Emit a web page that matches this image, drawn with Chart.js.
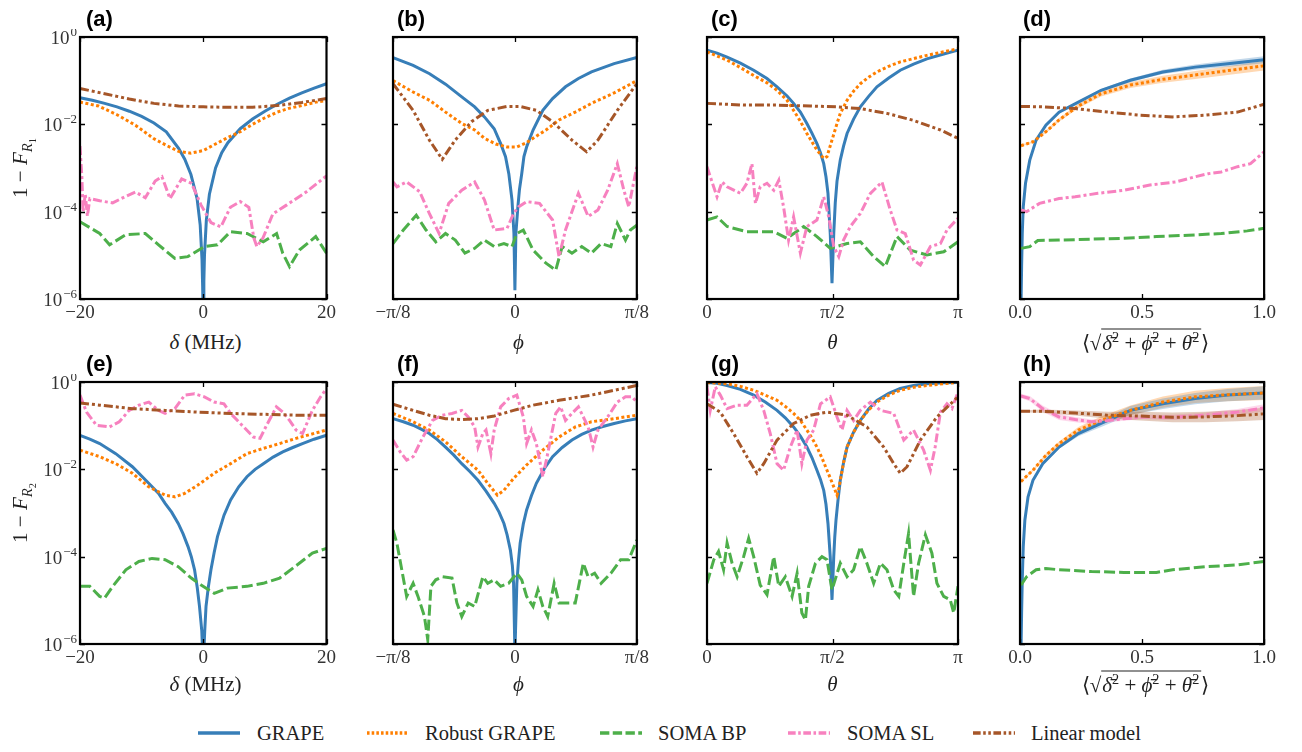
<!DOCTYPE html>
<html>
<head>
<meta charset="utf-8">
<script src="https://cdn.jsdelivr.net/npm/chart.js@4.4.1/dist/chart.umd.min.js"></script>
<style>
  body { margin: 0; background: #fff; width: 1302px; height: 752px; position: relative; overflow: hidden; font-family: "Liberation Serif", serif; color: #222; }
  canvas { position: absolute; }
  .lbl { position: absolute; font: bold 22px "Liberation Sans", Arial, sans-serif; line-height: 26px; color: #000; }
  .xt { position: absolute; font-size: 21px; transform: translate(-50%, -50%); white-space: nowrap; }
  .yt { position: absolute; font-size: 21px; transform: translate(-50%, -50%) rotate(-90deg); white-space: nowrap; }
  .ov { border-top: 1.3px solid #222; padding: 1px 2px 0 1px; }
  .leg { position: absolute; top: 721px; font-size: 20.5px; line-height: 24px; white-space: nowrap; }
  .legline { position: absolute; top: 728px; }
  sub { font-size: 70%; }
  sup { font-size: 68%; }
</style>
</head>
<body>
<div id="root"></div>
<script>
// series order: GRAPE, Robust GRAPE, SOMA BP, SOMA SL, Linear model
const SERIES_NAMES = ["GRAPE", "Robust GRAPE", "SOMA BP", "SOMA SL", "Linear model"];
const SERIES_COLORS = ["#377eb8", "#ff7f00", "#4daf4a", "#f781bf", "#a65628"];
const BAND_COLORS = ["rgba(55,126,184,0.3)", "rgba(255,127,0,0.3)", "rgba(77,175,74,0.3)", "rgba(247,129,191,0.3)", "rgba(166,86,40,0.3)"];
const SERIES_DASH = [[], [3, 2.5], [11, 4], [9, 3, 3, 3], [9, 3, 3, 3, 3, 3]];

const Y_TICKS = [1e-6, 1e-4, 1e-2, 1];
const Y_EXP = ["\u22126", "\u22124", "\u22122", "0"];

// all y values below are log10(1 - F)

// (a) delta in MHz
const aGrapeX = [-20, -18, -16, -14, -12, -10, -8, -6, -4, -3, -2, -1, -0.5, -0.2, -0.1, 0, 0.1, 0.2, 0.5, 1, 2, 3, 4, 6, 8, 10, 12, 14, 16, 18, 20];
const aGrapeY = [-1.39, -1.45, -1.52, -1.6, -1.7, -1.82, -1.97, -2.17, -2.55, -2.8, -3.15, -3.7, -4.3, -5.1, -5.7, -6.5, -5.6, -5.0, -4.2, -3.6, -3.0, -2.65, -2.42, -2.1, -1.88, -1.7, -1.54, -1.4, -1.28, -1.17, -1.07];
const aRobustX = [-20, -17, -14, -11, -8, -6, -4, -2, 0, 2, 4, 6, 8, 10, 12, 14, 16, 18, 20];
const aRobustY = [-1.49, -1.58, -1.78, -2.02, -2.33, -2.48, -2.62, -2.66, -2.6, -2.45, -2.3, -2.17, -2.0, -1.85, -1.72, -1.63, -1.57, -1.5, -1.45];
const aBpX = [-20, -16.8, -15.2, -12.6, -9.4, -7.25, -4.6, -2.5, 0.2, 2.3, 4.4, 7.1, 9.75, 11.9, 12.9, 14, 15.6, 18.25, 20];
const aBpY = [-4.23, -4.5, -4.76, -4.53, -4.5, -4.76, -5.07, -5.03, -4.8, -4.76, -4.46, -4.5, -4.69, -4.5, -4.95, -5.26, -4.88, -4.57, -4.95];
const aSlX = [-20, -19.7, -19.5, -19.15, -18.8, -18.4, -16.8, -14.7, -12.6, -11, -9.4, -7.8, -6.7, -5.4, -3.5, -1.9, -0.35, 1.25, 2.85, 4.4, 6.0, 7.4, 8.2, 8.7, 9.7, 11.3, 13.5, 16.7, 20];
const aSlY = [-2.5, -3.2, -4.0, -3.6, -4.1, -3.7, -3.75, -3.8, -3.65, -3.55, -3.68, -3.3, -3.2, -3.7, -3.25, -3.35, -3.85, -4.25, -4.35, -3.9, -3.77, -3.9, -4.6, -4.8, -4.6, -4.05, -3.85, -3.55, -3.18];
const aLinearX = [-20, -16, -12, -8, -4, 0, 4, 8, 12, 16, 20];
const aLinearY = [-1.18, -1.3, -1.42, -1.52, -1.58, -1.6, -1.61, -1.61, -1.57, -1.5, -1.41];

// (b) phi in units of pi/8
const bGrapeX = [-1, -0.835, -0.7, -0.569, -0.436, -0.33, -0.25, -0.17, -0.117, -0.077, -0.05, -0.024, -0.008, 0, 0.008, 0.024, 0.037, 0.056, 0.074, 0.096, 0.149, 0.229, 0.309, 0.415, 0.521, 0.628, 0.814, 1];
const bGrapeY = [-0.47, -0.65, -0.84, -1.08, -1.37, -1.6, -1.83, -2.1, -2.44, -2.74, -3.13, -3.73, -4.5, -5.8, -4.5, -3.9, -3.5, -3.13, -2.74, -2.52, -2.13, -1.68, -1.41, -1.14, -0.95, -0.8, -0.61, -0.47];
const bRobustX = [-1, -0.835, -0.7, -0.569, -0.436, -0.33, -0.25, -0.157, -0.064, 0.016, 0.096, 0.149, 0.255, 0.362, 0.495, 0.628, 0.814, 1];
const bRobustY = [-1.0, -1.26, -1.45, -1.72, -1.98, -2.13, -2.32, -2.45, -2.52, -2.52, -2.42, -2.32, -2.13, -1.9, -1.72, -1.52, -1.28, -1.0];
const bBpX = [-1, -0.915, -0.809, -0.729, -0.649, -0.569, -0.489, -0.41, -0.33, -0.25, -0.17, -0.09, -0.024, 0.016, 0.069, 0.149, 0.255, 0.335, 0.388, 0.468, 0.548, 0.628, 0.707, 0.787, 0.84, 0.907, 0.947, 1];
const bBpY = [-4.73, -4.42, -4.08, -4.42, -4.69, -4.5, -4.65, -4.95, -4.84, -4.65, -4.8, -4.73, -4.8, -4.5, -4.42, -4.88, -5.18, -5.34, -4.8, -4.95, -4.8, -4.95, -4.73, -4.8, -4.27, -4.65, -4.42, -4.31];
const bSlX = [-1, -0.968, -0.888, -0.782, -0.702, -0.622, -0.543, -0.436, -0.33, -0.25, -0.17, -0.064, -0.011, 0.029, 0.096, 0.202, 0.309, 0.362, 0.415, 0.521, 0.601, 0.681, 0.761, 0.84, 0.894, 0.934, 1];
const bSlY = [-3.32, -3.43, -3.32, -3.54, -4.04, -4.5, -3.81, -3.51, -3.32, -3.73, -4.42, -4.38, -4.04, -3.89, -3.77, -3.81, -4.19, -5.03, -4.42, -3.58, -4.11, -3.96, -3.51, -2.9, -3.51, -3.89, -2.97];
const bLinearX = [-1, -0.835, -0.702, -0.596, -0.489, -0.356, -0.223, -0.064, 0.043, 0.176, 0.309, 0.468, 0.588, 0.681, 0.84, 1];
const bLinearY = [-1.07, -1.68, -2.36, -2.8, -2.36, -1.94, -1.68, -1.59, -1.59, -1.68, -1.94, -2.36, -2.63, -2.36, -1.68, -1.07];

// (c) theta in units of pi
const cGrapeX = [0, 0.04, 0.08, 0.133, 0.186, 0.239, 0.279, 0.319, 0.345, 0.372, 0.398, 0.418, 0.438, 0.452, 0.465, 0.474, 0.482, 0.491, 0.498, 0.505, 0.511, 0.518, 0.531, 0.544, 0.558, 0.584, 0.611, 0.644, 0.677, 0.724, 0.77, 0.823, 0.876, 0.943, 1];
const cGrapeY = [-0.3, -0.37, -0.46, -0.6, -0.76, -0.95, -1.14, -1.35, -1.52, -1.72, -1.98, -2.2, -2.44, -2.65, -2.9, -3.2, -3.58, -4.5, -5.64, -4.5, -3.8, -3.3, -2.82, -2.5, -2.21, -1.88, -1.6, -1.36, -1.14, -0.94, -0.76, -0.62, -0.5, -0.39, -0.3];
const cRobustX = [0, 0.08, 0.133, 0.186, 0.239, 0.279, 0.319, 0.345, 0.372, 0.398, 0.418, 0.438, 0.465, 0.478, 0.498, 0.518, 0.531, 0.558, 0.584, 0.611, 0.644, 0.677, 0.724, 0.77, 0.876, 1];
const cRobustY = [-0.34, -0.53, -0.7, -0.88, -1.05, -1.22, -1.45, -1.68, -1.93, -2.21, -2.4, -2.59, -2.78, -2.74, -2.36, -1.98, -1.75, -1.45, -1.24, -1.07, -0.92, -0.8, -0.67, -0.57, -0.42, -0.27];
const cBpX = [0, 0.04, 0.08, 0.159, 0.266, 0.319, 0.385, 0.438, 0.491, 0.558, 0.611, 0.664, 0.71, 0.757, 0.81, 0.876, 0.943, 1];
const cBpY = [-4.19, -4.12, -4.34, -4.46, -4.46, -4.61, -4.34, -4.57, -4.84, -4.73, -4.69, -5.03, -5.26, -4.57, -4.88, -4.99, -4.92, -4.69];
const cSlX = [0, 0.02, 0.04, 0.06, 0.08, 0.133, 0.159, 0.179, 0.193, 0.212, 0.239, 0.266, 0.286, 0.305, 0.325, 0.345, 0.372, 0.398, 0.438, 0.465, 0.485, 0.505, 0.525, 0.544, 0.571, 0.611, 0.651, 0.697, 0.73, 0.757, 0.79, 0.823, 0.85, 0.89, 0.93, 0.956, 1];
const cSlY = [-2.97, -3.32, -3.66, -3.32, -3.43, -3.58, -3.35, -2.9, -3.81, -3.43, -3.35, -3.51, -3.28, -3.89, -4.65, -4.12, -4.95, -4.34, -4.19, -3.66, -4.12, -4.8, -5.03, -4.65, -4.34, -4.04, -3.58, -3.32, -3.96, -4.42, -4.5, -5.11, -5.22, -4.8, -4.73, -4.42, -4.15];
const cLinearX = [0, 0.146, 0.279, 0.412, 0.518, 0.611, 0.717, 0.823, 0.93, 1];
const cLinearY = [-1.52, -1.56, -1.56, -1.58, -1.6, -1.64, -1.75, -1.91, -2.13, -2.32];

// (d) mean error norm
const dGrapeX = [0.004, 0.0066, 0.0093, 0.0133, 0.0226, 0.04, 0.066, 0.106, 0.16, 0.239, 0.332, 0.452, 0.585, 0.718, 0.851, 1];
const dGrapeY = [-6.2, -5.26, -4.5, -3.89, -3.35, -2.82, -2.36, -2.02, -1.72, -1.49, -1.22, -0.99, -0.8, -0.69, -0.61, -0.52];
const dGrapeBand = [0, 0, 0, 0, 0, 0, 0, 0.01, 0.015, 0.02, 0.03, 0.04, 0.05, 0.06, 0.07, 0.08];
const dRobustX = [0.004, 0.053, 0.106, 0.16, 0.239, 0.332, 0.452, 0.585, 0.718, 0.851, 1];
const dRobustY = [-2.49, -2.4, -2.17, -1.9, -1.58, -1.3, -1.1, -0.97, -0.87, -0.77, -0.66];
const dRobustBand = [0.02, 0.02, 0.03, 0.04, 0.05, 0.06, 0.07, 0.08, 0.09, 0.1, 0.11];
const dBpX = [0.004, 0.04, 0.073, 0.16, 0.293, 0.426, 0.559, 0.691, 0.824, 0.931, 1];
const dBpY = [-4.84, -4.8, -4.66, -4.65, -4.63, -4.61, -4.57, -4.54, -4.5, -4.44, -4.38];
const dSlX = [0.004, 0.027, 0.08, 0.16, 0.226, 0.319, 0.426, 0.532, 0.638, 0.718, 0.771, 0.824, 0.891, 0.944, 1];
const dSlY = [-3.96, -4.0, -3.81, -3.7, -3.66, -3.58, -3.51, -3.39, -3.32, -3.2, -3.13, -3.09, -2.97, -2.9, -2.63];
const dLinearX = [0.004, 0.093, 0.226, 0.359, 0.492, 0.625, 0.758, 0.891, 1];
const dLinearY = [-1.59, -1.6, -1.64, -1.72, -1.79, -1.83, -1.79, -1.72, -1.54];

// (e) delta in MHz
const eGrapeX = [-20, -18.41, -16.8, -14.2, -11.5, -8.85, -7.25, -6.19, -5.13, -4.06, -3.27, -2.47, -1.94, -1.41, -0.98, -0.61, -0.24, 0, 0.24, 0.45, 0.82, 1.25, 1.78, 2.31, 3.37, 4.44, 5.76, 7.09, 8.42, 9.75, 11.34, 12.9, 14.53, 16.1, 17.98, 20];
const eGrapeY = [-1.22, -1.31, -1.41, -1.64, -1.94, -2.32, -2.55, -2.78, -2.98, -3.24, -3.48, -3.77, -4.0, -4.3, -4.7, -5.14, -5.7, -6.5, -5.7, -5.14, -4.7, -4.3, -3.9, -3.54, -3.05, -2.7, -2.4, -2.17, -2.0, -1.87, -1.72, -1.6, -1.5, -1.41, -1.31, -1.22];
const eRobustX = [-20, -16.8, -14.2, -11.5, -8.85, -6.19, -4.59, -3.0, -0.87, 1.78, 4.44, 7.09, 9.75, 12.4, 15.06, 20];
const eRobustY = [-1.56, -1.71, -1.87, -2.09, -2.4, -2.59, -2.63, -2.55, -2.36, -2.09, -1.87, -1.64, -1.52, -1.41, -1.29, -1.1];
const eBpX = [-20, -18.41, -16.81, -16.02, -14.69, -12.56, -10.44, -8.31, -6.19, -4.06, -1.94, -0.35, 1.78, 3.9, 7.09, 9.75, 12.4, 13.46, 15.59, 17.71, 20];
const eBpY = [-4.68, -4.68, -4.91, -4.95, -4.68, -4.3, -4.11, -4.04, -4.07, -4.23, -4.49, -4.65, -4.84, -4.72, -4.68, -4.61, -4.49, -4.38, -4.15, -3.92, -3.81];
const eSlX = [-20, -18.94, -17.34, -15.22, -13.63, -12.03, -10.44, -8.84, -7.25, -6.19, -4.6, -3.0, -1.41, 0.19, 1.78, 3.37, 4.44, 6.56, 8.15, 9.22, 10.28, 11.87, 12.93, 14.0, 15.06, 16.12, 17.71, 19.04, 20];
const eSlY = [-0.3, -0.69, -0.99, -1.03, -0.91, -0.65, -0.53, -0.46, -0.65, -0.72, -0.61, -0.3, -0.27, -0.34, -0.46, -0.5, -0.72, -1.03, -1.26, -1.29, -0.99, -0.57, -0.69, -0.88, -1.1, -1.18, -0.65, -0.34, -0.15];
const eLinearX = [-20, -16.8, -11.5, -6.19, -0.87, 4.44, 9.75, 15.06, 20];
const eLinearY = [-0.48, -0.53, -0.61, -0.65, -0.69, -0.72, -0.74, -0.76, -0.76];

// (f) phi in units of pi/8
const fGrapeX = [-1, -0.915, -0.835, -0.769, -0.702, -0.636, -0.569, -0.503, -0.436, -0.37, -0.303, -0.237, -0.17, -0.13, -0.09, -0.064, -0.037, -0.021, -0.011, 0, 0.016, 0.029, 0.043, 0.069, 0.096, 0.136, 0.176, 0.242, 0.309, 0.388, 0.468, 0.548, 0.628, 0.721, 0.814, 0.907, 1];
const fGrapeY = [-0.84, -0.91, -0.99, -1.08, -1.18, -1.32, -1.49, -1.67, -1.87, -2.05, -2.25, -2.5, -2.78, -2.98, -3.24, -3.5, -3.85, -4.2, -4.61, -6.2, -4.61, -4.1, -3.69, -3.25, -2.93, -2.6, -2.32, -1.98, -1.71, -1.5, -1.33, -1.2, -1.1, -1.02, -0.95, -0.89, -0.84];
const fRobustX = [-1, -0.835, -0.702, -0.569, -0.436, -0.303, -0.223, -0.144, -0.09, -0.011, 0.096, 0.229, 0.362, 0.495, 0.628, 0.814, 1];
const fRobustY = [-0.72, -0.91, -1.1, -1.37, -1.71, -2.02, -2.32, -2.59, -2.48, -2.21, -1.9, -1.56, -1.26, -1.03, -0.91, -0.84, -0.76];
const fBpX = [-1, -0.968, -0.928, -0.888, -0.835, -0.795, -0.742, -0.715, -0.689, -0.649, -0.596, -0.516, -0.476, -0.436, -0.383, -0.33, -0.263, -0.223, -0.17, -0.117, -0.051, 0.016, 0.056, 0.096, 0.149, 0.189, 0.229, 0.269, 0.322, 0.362, 0.415, 0.495, 0.561, 0.601, 0.654, 0.707, 0.787, 0.867, 0.934, 1];
const fBpY = [-3.39, -3.69, -4.3, -4.91, -4.61, -4.91, -5.37, -5.9, -4.68, -4.53, -4.46, -4.49, -5.06, -5.37, -5.06, -5.14, -4.46, -4.61, -4.53, -4.68, -4.61, -4.38, -4.53, -4.91, -5.14, -4.76, -5.14, -5.37, -4.61, -5.06, -5.06, -5.06, -4.15, -4.46, -4.38, -4.61, -4.38, -4.07, -4.07, -3.62];
const fSlX = [-1, -0.941, -0.888, -0.835, -0.755, -0.676, -0.596, -0.516, -0.436, -0.383, -0.33, -0.303, -0.263, -0.237, -0.197, -0.17, -0.117, -0.051, 0.016, 0.069, 0.096, 0.136, 0.176, 0.229, 0.269, 0.335, 0.375, 0.415, 0.468, 0.521, 0.601, 0.641, 0.681, 0.761, 0.84, 0.907, 0.96, 1];
const fSlY = [-1.33, -1.6, -1.79, -1.71, -1.26, -0.88, -0.76, -0.72, -0.65, -0.8, -1.03, -1.49, -1.18, -1.1, -1.64, -1.1, -0.57, -0.38, -0.3, -0.8, -1.41, -1.1, -1.41, -2.17, -1.64, -0.72, -0.57, -0.88, -0.72, -0.57, -1.03, -1.49, -1.1, -0.8, -0.46, -0.34, -0.34, -0.46];
const fLinearX = [-1, -0.835, -0.702, -0.569, -0.436, -0.303, -0.17, -0.011, 0.149, 0.362, 0.628, 0.814, 1];
const fLinearY = [-0.51, -0.65, -0.76, -0.84, -0.86, -0.84, -0.78, -0.65, -0.53, -0.42, -0.3, -0.19, -0.08];

// (g) theta in units of pi
const gGrapeX = [0, 0.04, 0.08, 0.133, 0.186, 0.232, 0.279, 0.312, 0.345, 0.372, 0.398, 0.418, 0.438, 0.452, 0.465, 0.474, 0.482, 0.491, 0.498, 0.505, 0.509, 0.514, 0.522, 0.531, 0.544, 0.558, 0.584, 0.611, 0.644, 0.677, 0.724, 0.77, 0.823, 0.876, 0.943, 1];
const gGrapeY = [-0.01, -0.03, -0.08, -0.17, -0.3, -0.46, -0.65, -0.82, -1.03, -1.24, -1.49, -1.73, -2.02, -2.23, -2.48, -2.8, -3.24, -4.0, -4.99, -4.0, -3.55, -3.16, -2.7, -2.25, -1.85, -1.49, -1.15, -0.88, -0.62, -0.42, -0.26, -0.15, -0.08, -0.04, -0.02, -0.01];
const gRobustX = [0, 0.08, 0.133, 0.186, 0.232, 0.279, 0.312, 0.345, 0.372, 0.398, 0.418, 0.438, 0.458, 0.478, 0.491, 0.505, 0.518, 0.525, 0.531, 0.544, 0.558, 0.584, 0.611, 0.644, 0.677, 0.724, 0.77, 0.823, 0.876, 0.943, 1];
const gRobustY = [-0.01, -0.04, -0.1, -0.19, -0.3, -0.42, -0.56, -0.72, -0.88, -1.1, -1.28, -1.49, -1.74, -2.02, -2.2, -2.4, -2.59, -2.45, -2.25, -1.85, -1.49, -1.15, -0.88, -0.64, -0.46, -0.3, -0.19, -0.12, -0.08, -0.04, -0.01];
const gBpX = [0, 0.027, 0.046, 0.066, 0.08, 0.1, 0.12, 0.146, 0.166, 0.186, 0.212, 0.239, 0.266, 0.286, 0.312, 0.339, 0.359, 0.378, 0.392, 0.405, 0.432, 0.458, 0.478, 0.498, 0.531, 0.558, 0.584, 0.611, 0.637, 0.664, 0.691, 0.717, 0.744, 0.764, 0.784, 0.803, 0.823, 0.843, 0.87, 0.896, 0.916, 0.943, 0.969, 0.983, 1];
const gBpY = [-4.61, -4.07, -3.88, -4.3, -3.69, -4.15, -4.46, -4.0, -3.58, -4.0, -4.65, -4.87, -4.0, -4.68, -4.46, -4.91, -4.38, -5.29, -5.45, -4.68, -4.15, -4.0, -4.07, -4.76, -4.15, -4.46, -4.3, -3.77, -4.15, -4.61, -4.15, -4.3, -4.76, -4.91, -4.15, -3.47, -4.91, -4.15, -3.5, -3.92, -4.61, -4.91, -4.99, -5.29, -4.68];
const gSlX = [0, 0.013, 0.033, 0.053, 0.08, 0.12, 0.159, 0.199, 0.226, 0.252, 0.279, 0.305, 0.332, 0.359, 0.378, 0.398, 0.425, 0.452, 0.491, 0.518, 0.538, 0.558, 0.584, 0.611, 0.651, 0.691, 0.744, 0.784, 0.823, 0.863, 0.89, 0.909, 0.93, 0.956, 0.976, 1];
const gSlY = [-0.11, -0.65, -0.11, -0.3, -0.61, -0.53, -0.53, -0.27, -0.65, -1.18, -1.87, -2.02, -1.49, -1.1, -1.87, -1.33, -1.1, -0.5, -0.34, -0.8, -1.1, -0.65, -0.88, -0.65, -0.46, -0.65, -0.72, -1.33, -1.1, -1.56, -2.02, -1.49, -0.69, -0.5, -0.61, -0.23];
const gLinearX = [0, 0.053, 0.106, 0.159, 0.199, 0.226, 0.279, 0.345, 0.412, 0.478, 0.558, 0.637, 0.704, 0.744, 0.77, 0.797, 0.85, 0.916, 1];
const gLinearY = [-0.5, -0.69, -1.18, -1.71, -2.09, -1.87, -1.33, -0.95, -0.76, -0.69, -0.76, -1.03, -1.49, -1.87, -2.09, -1.94, -1.33, -0.8, -0.34];

// (h) mean error norm
const hGrapeX = [0.004, 0.0066, 0.0093, 0.0133, 0.02, 0.033, 0.053, 0.093, 0.16, 0.239, 0.332, 0.452, 0.585, 0.718, 0.851, 1];
const hGrapeY = [-6.2, -5.29, -4.53, -3.77, -3.16, -2.63, -2.25, -1.87, -1.49, -1.18, -0.95, -0.65, -0.5, -0.38, -0.3, -0.25];
const hGrapeBand = [0, 0, 0, 0, 0, 0.01, 0.02, 0.03, 0.04, 0.06, 0.08, 0.1, 0.12, 0.13, 0.14, 0.15];
const hRobustX = [0.004, 0.053, 0.106, 0.16, 0.239, 0.332, 0.452, 0.585, 0.718, 0.851, 1];
const hRobustY = [-2.28, -2.02, -1.68, -1.41, -1.1, -0.88, -0.65, -0.46, -0.34, -0.29, -0.25];
const hRobustBand = [0.02, 0.03, 0.04, 0.05, 0.07, 0.09, 0.11, 0.13, 0.14, 0.15, 0.16];
const hBpX = [0.004, 0.027, 0.066, 0.106, 0.16, 0.293, 0.426, 0.559, 0.625, 0.758, 0.891, 1];
const hBpY = [-4.65, -4.46, -4.3, -4.27, -4.3, -4.34, -4.36, -4.36, -4.3, -4.23, -4.19, -4.11];
const hSlX = [0.004, 0.04, 0.093, 0.16, 0.226, 0.293, 0.359, 0.426, 0.505, 0.625, 0.758, 0.891, 1];
const hSlY = [-0.32, -0.38, -0.61, -0.8, -0.86, -0.91, -0.88, -0.84, -0.8, -0.81, -0.76, -0.69, -0.59];
const hSlBand = [0.05, 0.06, 0.07, 0.07, 0.06, 0.05, 0.05, 0.05, 0.05, 0.06, 0.06, 0.07, 0.08];
const hLinearX = [0.004, 0.093, 0.226, 0.359, 0.492, 0.625, 0.758, 0.891, 1];
const hLinearY = [-0.67, -0.67, -0.71, -0.76, -0.78, -0.81, -0.8, -0.77, -0.73];
const hLinearBand = [0.02, 0.04, 0.06, 0.08, 0.1, 0.11, 0.12, 0.13, 0.14];

const FRAME_W = 251;
const FRAME_H = 262;
const PAD_L = 62, PAD_T = 8, PAD_R = 8, PAD_B = 30;
const TICK_FONT = '19px "Liberation Serif", serif';
const EXP_FONT = '13px "Liberation Serif", serif';

const $root = document.getElementById("root");

function toPoints(xs, ys, shift) {
  const n = Math.min(xs.length, ys.length);
  const out = [];
  for (let i = 0; i < n; i++) {
    const s = shift ? shift[i] : 0;
    out.push({ x: xs[i], y: Math.pow(10, ys[i] + s) });
  }
  return out;
}

function framePlugin(xTicks, showY) {
  return {
    id: "frame",
    afterDatasetsDraw(chart) {
      const { ctx, chartArea: a, scales } = chart;
      ctx.save();
      ctx.strokeStyle = "#000";
      ctx.lineWidth = 1.3;
      ctx.beginPath();
      xTicks.forEach((v) => {
        const px = Math.round(scales.x.getPixelForValue(v)) + 0.5;
        ctx.moveTo(px, a.bottom); ctx.lineTo(px, a.bottom - 5);
        ctx.moveTo(px, a.top); ctx.lineTo(px, a.top + 5);
      });
      Y_TICKS.forEach((v) => {
        const py = Math.round(scales.y.getPixelForValue(v)) + 0.5;
        ctx.moveTo(a.left, py); ctx.lineTo(a.left + 5, py);
        ctx.moveTo(a.right, py); ctx.lineTo(a.right - 5, py);
      });
      ctx.stroke();
      ctx.lineWidth = 2.2;
      ctx.strokeRect(a.left, a.top, a.right - a.left, a.bottom - a.top);

      if (showY) {
        ctx.fillStyle = "#333";
        ctx.textBaseline = "alphabetic";
        ctx.textAlign = "left";
        Y_TICKS.forEach((v, i) => {
          const py = scales.y.getPixelForValue(v);
          ctx.font = EXP_FONT;
          const wExp = ctx.measureText(Y_EXP[i]).width;
          ctx.font = TICK_FONT;
          const wBase = ctx.measureText("10").width;
          const right = a.left - 3;
          ctx.fillText("10", right - wExp - wBase - 1, py + 7);
          ctx.font = EXP_FONT;
          ctx.fillText(Y_EXP[i], right - wExp, py - 1);
        });
      }
      ctx.restore();
    },
  };
}

function makePanel(p) {
  const canvas = document.createElement("canvas");
  const W = FRAME_W + PAD_L + PAD_R;
  const H = FRAME_H + PAD_T + PAD_B;
  canvas.width = W;
  canvas.height = H;
  canvas.style.left = p.left - PAD_L + "px";
  canvas.style.top = p.top - PAD_T + "px";
  $root.appendChild(canvas);

  const datasets = [];
  (p.bands || []).forEach((b) => {
    const lo = b.band.map((v) => -v);
    datasets.push({
      data: toPoints(b.x, b.y, lo),
      borderWidth: 0, pointRadius: 0, fill: false, order: 20,
      borderColor: "rgba(0,0,0,0)",
    });
    datasets.push({
      data: toPoints(b.x, b.y, b.band),
      borderWidth: 0, pointRadius: 0, order: 20,
      borderColor: "rgba(0,0,0,0)",
      backgroundColor: BAND_COLORS[b.series],
      fill: "-1",
    });
  });
  p.lines.forEach(([xs, ys], i) => {
    datasets.push({
      label: SERIES_NAMES[i],
      data: toPoints(xs, ys),
      borderColor: SERIES_COLORS[i],
      borderDash: SERIES_DASH[i],
      borderWidth: 3,
      pointRadius: 0,
      fill: false,
      tension: 0,
      clip: 1,
      order: 10 - i,
    });
  });

  new Chart(canvas, {
    type: "line",
    data: { datasets },
    options: {
      responsive: false,
      animation: false,
      devicePixelRatio: 1,
      layout: { padding: { left: 0, top: PAD_T, right: PAD_R, bottom: 0 } },
      plugins: { legend: { display: false }, tooltip: { enabled: false } },
      scales: {
        x: {
          type: "linear",
          min: p.xMin,
          max: p.xMax,
          grid: { display: false, drawTicks: false },
          border: { display: false },
          afterBuildTicks: (s) => { s.ticks = p.xTicks.map((v) => ({ value: v })); },
          afterFit: (s) => { s.height = PAD_B; },
          ticks: {
            autoSkip: false,
            maxRotation: 0,
            padding: 3,
            color: "#333",
            font: { family: '"Liberation Serif", serif', size: 19 },
            callback: (v, i) => p.xLabels[i],
          },
        },
        y: {
          type: "logarithmic",
          min: 1e-6,
          max: 1,
          grid: { display: false, drawTicks: false },
          border: { display: false },
          afterBuildTicks: (s) => { s.ticks = Y_TICKS.map((v) => ({ value: v })); },
          afterFit: (s) => { s.width = PAD_L; },
          ticks: { display: false },
        },
      },
    },
    plugins: [framePlugin(p.xTicks, p.showY)],
  });
}

const COL_LEFT = [80, 393, 707, 1020];
const ROW_TOP = [37, 382];
const DELTA_TICKS = { xMin: -20, xMax: 20, xTicks: [-20, 0, 20], xLabels: ["\u221220", "0", "20"] };
const PHI_TICKS = { xMin: -1, xMax: 1, xTicks: [-1, 0, 1], xLabels: ["\u2212\u03c0/8", "0", "\u03c0/8"] };
const THETA_TICKS = { xMin: 0, xMax: 1, xTicks: [0, 0.5, 1], xLabels: ["0", "\u03c0/2", "\u03c0"] };
const NORM_TICKS = { xMin: 0, xMax: 1, xTicks: [0, 0.5, 1], xLabels: ["0.0", "0.5", "1.0"] };

makePanel({ left: COL_LEFT[0], top: ROW_TOP[0], showY: true, ...DELTA_TICKS,
  lines: [[aGrapeX, aGrapeY], [aRobustX, aRobustY], [aBpX, aBpY], [aSlX, aSlY], [aLinearX, aLinearY]] });
makePanel({ left: COL_LEFT[1], top: ROW_TOP[0], showY: false, ...PHI_TICKS,
  lines: [[bGrapeX, bGrapeY], [bRobustX, bRobustY], [bBpX, bBpY], [bSlX, bSlY], [bLinearX, bLinearY]] });
makePanel({ left: COL_LEFT[2], top: ROW_TOP[0], showY: false, ...THETA_TICKS,
  lines: [[cGrapeX, cGrapeY], [cRobustX, cRobustY], [cBpX, cBpY], [cSlX, cSlY], [cLinearX, cLinearY]] });
makePanel({ left: COL_LEFT[3], top: ROW_TOP[0], showY: false, ...NORM_TICKS,
  bands: [
    { series: 0, x: dGrapeX, y: dGrapeY, band: dGrapeBand },
    { series: 1, x: dRobustX, y: dRobustY, band: dRobustBand },
  ],
  lines: [[dGrapeX, dGrapeY], [dRobustX, dRobustY], [dBpX, dBpY], [dSlX, dSlY], [dLinearX, dLinearY]] });
makePanel({ left: COL_LEFT[0], top: ROW_TOP[1], showY: true, ...DELTA_TICKS,
  lines: [[eGrapeX, eGrapeY], [eRobustX, eRobustY], [eBpX, eBpY], [eSlX, eSlY], [eLinearX, eLinearY]] });
makePanel({ left: COL_LEFT[1], top: ROW_TOP[1], showY: false, ...PHI_TICKS,
  lines: [[fGrapeX, fGrapeY], [fRobustX, fRobustY], [fBpX, fBpY], [fSlX, fSlY], [fLinearX, fLinearY]] });
makePanel({ left: COL_LEFT[2], top: ROW_TOP[1], showY: false, ...THETA_TICKS,
  lines: [[gGrapeX, gGrapeY], [gRobustX, gRobustY], [gBpX, gBpY], [gSlX, gSlY], [gLinearX, gLinearY]] });
makePanel({ left: COL_LEFT[3], top: ROW_TOP[1], showY: false, ...NORM_TICKS,
  bands: [
    { series: 4, x: hLinearX, y: hLinearY, band: hLinearBand },
    { series: 3, x: hSlX, y: hSlY, band: hSlBand },
    { series: 0, x: hGrapeX, y: hGrapeY, band: hGrapeBand },
    { series: 1, x: hRobustX, y: hRobustY, band: hRobustBand },
  ],
  lines: [[hGrapeX, hGrapeY], [hRobustX, hRobustY], [hBpX, hBpY], [hSlX, hSlY], [hLinearX, hLinearY]] });

// text: panel letters, axis titles, legend
const NORM_TITLE = '\u27e8\u221a<span class="ov"><i>\u03b4\u0304</i><sup>2</sup> + <i>\u03d5\u0304</i><sup>2</sup> + <i>\u03b8\u0304</i><sup>2</sup></span>\u27e9';
const X_TITLES = ['<i>\u03b4</i> (MHz)', '<i>\u03d5</i>', '<i>\u03b8</i>', NORM_TITLE];
const LETTERS = [["(a)", "(b)", "(c)", "(d)"], ["(e)", "(f)", "(g)", "(h)"]];
const TITLE_Y = [342, 684];
const LETTER_Y = [6, 351];
const LETTER_X = [86, 397, 711, 1023];

let html = "";
for (let r = 0; r < 2; r++) {
  for (let c = 0; c < 4; c++) {
    html += `<div class="lbl" style="left:${LETTER_X[c]}px;top:${LETTER_Y[r]}px">${LETTERS[r][c]}</div>`;
    html += `<div class="xt" style="left:${COL_LEFT[c] + FRAME_W / 2}px;top:${TITLE_Y[r]}px">${X_TITLES[c]}</div>`;
  }
}
html += `<div class="yt" style="left:23px;top:168px">1 \u2212 <i>F</i><sub><i>R</i><sub>1</sub></sub></div>`;
html += `<div class="yt" style="left:23px;top:513px">1 \u2212 <i>F</i><sub><i>R</i><sub>2</sub></sub></div>`;

const LEG_LINE_X = [198, 367, 600, 788, 973];
const LEG_TEXT_X = [257, 425, 658, 847, 1031];
SERIES_NAMES.forEach((name, i) => {
  const dash = SERIES_DASH[i].length ? `stroke-dasharray="${SERIES_DASH[i].map((d) => d * 0.85).join(",")}"` : "";
  html += `<svg class="legline" style="left:${LEG_LINE_X[i]}px" width="42" height="10"><line x1="0" y1="5" x2="42" y2="5" stroke="${SERIES_COLORS[i]}" stroke-width="3.5" ${dash}/></svg>`;
  html += `<div class="leg" style="left:${LEG_TEXT_X[i]}px">${name}</div>`;
});
$root.insertAdjacentHTML("beforeend", html);
</script>
</body>
</html>
